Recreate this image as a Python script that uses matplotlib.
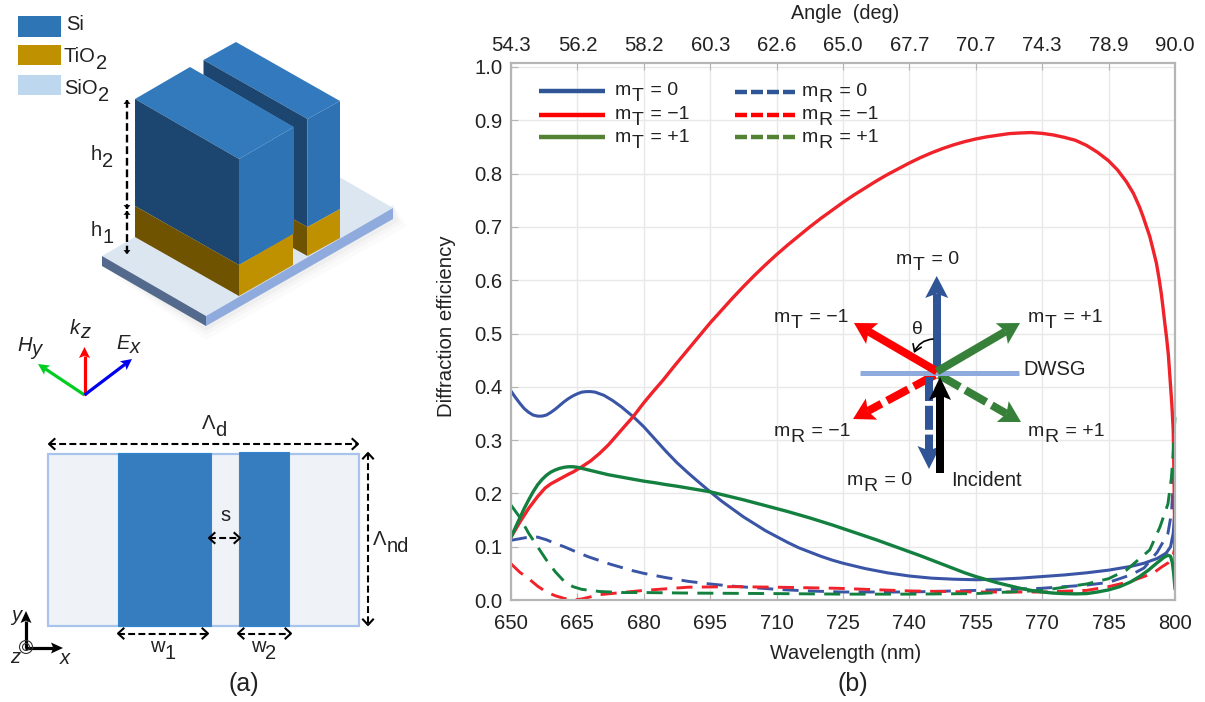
import numpy as np
import matplotlib
matplotlib.use('Agg')
from matplotlib import pyplot as plt
from matplotlib.patches import Polygon, Rectangle, Circle, FancyArrowPatch

plt.rcParams['font.family'] = ['Liberation Sans', 'DejaVu Sans']

# wavelength grids and curves
wl_tz = [650, 651, 652, 653, 654, 655, 656, 657, 658, 659, 660, 661, 662, 663, 664, 665, 666, 667, 668, 669, 670, 671,
         672, 673, 674, 675, 676, 677.6, 679, 680, 682.5, 685, 687.5, 690, 692.5, 695, 697.5, 700, 702.5, 705, 707.5,
         710, 712.5, 715, 717.5, 720, 722.5, 725, 727.5, 730, 732.5, 735, 737.5, 740, 745, 750, 755, 760, 765, 770,
         775, 780, 785, 790, 793, 796, 798, 799, 799.6, 800]
t_zero = [.392, .380, .369, .359, .352, .347, .345, .345, .347, .352, .358, .365, .372, .378, .383, .387, .390, .391,
          .391, .390, .387, .384, .379, .374, .368, .362, .355, .344, .333, .325, .302, .279, .2575, .2385, .2205, .203,
          .186, .171, .156, .143, .130, .119, .108, .098, .090, .082, .075, .069, .064, .059, .055, .051, .048, .045,
          .041, .039, .038, .039, .041, .044, .047, .051, .056, .063, .069, .078, .088, .100, .125, .170]

wl_tm = [650, 652, 654, 656, 657.7, 659, 661, 663, 664, 666, 668, 670, 672, 674, 676, 677.6, 680, 682, 684.4, 687, 690,
         692.5, 695, 697.5, 700, 702.5, 705, 707.5, 710, 712.5, 715, 717.5, 720, 722.5, 725, 727.5, 730, 732.5, 735,
         737.5, 740, 742.5, 745, 747.5, 750, 752.5, 755, 757.5, 760, 762.5, 765, 767.5, 770, 772.5, 775, 777.5, 780,
         782.5, 785, 787, 789, 790.6, 792, 792.8, 794.3, 795, 795.8, 796.4, 796.9, 797.3, 797.7, 798.1, 798.5, 798.9,
         799.3, 799.6, 799.8, 800]
t_minus = [.118, .146, .172, .194, .210, .218, .227, .236, .240, .250, .261, .275, .291, .310, .329, .344, .370, .390,
           .413, .440, .470, .495, .520, .543, .566, .588, .609, .629, .648, .666, .683, .700, .716, .731, .746, .760,
           .773, .786, .798, .809, .820, .830, .839, .847, .854, .860, .865, .869, .872, .875, .8762, .877, .8755, .8725,
           .868, .8625, .853, .840, .824, .807, .785, .763, .737, .719, .682, .659, .632, .603, .575, .548, .519, .492,
           .460, .413, .365, .319, .220, .070]

wl_tp = [650, 651, 652, 653, 654, 655, 656, 657, 658, 659, 660, 661, 662, 663, 664, 665, 666, 667, 668, 670, 672, 674,
         676, 678, 680, 682.5, 685, 687.5, 690, 692.5, 695, 697.5, 700, 702.5, 705, 707.5, 710, 712.5, 715, 717.5, 720,
         722.5, 725, 727.5, 730, 732.5, 735, 737.5, 740, 742.5, 745, 747.5, 750, 752.5, 755, 757.5, 760, 762.5, 765,
         767.5, 770, 772.5, 775, 777.5, 780, 782.5, 785, 787.5, 790, 792, 794, 796, 797.5, 798.4, 799, 799.4, 799.7, 800]
t_plus = [.118, .136, .154, .172, .188, .203, .216, .226, .234, .240, .244, .247, .249, .250, .250, .249, .247, .245,
          .243, .239, .235, .232, .229, .226, .223, .220, .2165, .2135, .210, .2065, .203, .198, .193, .188, .1825, .177,
          .1715, .166, .160, .154, .1475, .141, .134, .127, .120, .113, .1055, .098, .0905, .083, .075, .067, .059, .051,
          .044, .038, .032, .027, .022, .018, .015, .013, .012, .0115, .012, .015, .019, .025, .034, .044, .056, .070,
          .080, .084, .082, .070, .050, .022]

wl_rz = [650, 652, 654, 656, 658, 660, 662, 664.8, 667.5, 670, 672.5, 675, 677.5, 680, 685, 690, 695, 700, 705, 710, 717,
         725, 740, 755, 770, 780, 785, 790, 793, 796, 798.4, 799.2, 799.6, 799.9, 800]
r_zero = [.112, .115, .118, .118, .113, .106, .100, .090, .081, .074, .067, .061, .055, .050, .042, .035, .030, .026,
          .023, .020, .017, .015, .015, .018, .022, .028, .033, .047, .060, .090, .125, .163, .220, .270, .330]

wl_rm = [650, 652, 654, 656, 658, 660, 662, 664, 666, 668, 670, 675, 680, 690, 700, 710, 723.6, 740, 755, 770, 780,
         785, 790, 795, 797, 798.5, 799.5, 800]
r_minus = [.068, .052, .040, .026, .015, .008, .003, .000, .002, .006, .010, .014, .018, .024, .025, .024, .022, .017,
           .015, .015, .018, .025, .035, .050, .062, .070, .080, .100]

wl_rp = [650, 652, 654, 656, 658, 660, 662, 664, 666, 670, 675, 680, 690, 710, 725, 740, 755, 770, 780, 785, 789,
         794.3, 796.6, 798.4, 799.2, 799.6, 799.85, 800]
r_plus = [.178, .155, .125, .100, .075, .053, .035, .025, .020, .016, .014, .014, .013, .012, .011, .011, .012, .018,
          .030, .040, .056, .094, .137, .180, .230, .280, .320, .344]

x_ticks = [650, 665, 680, 695, 710, 725, 740, 755, 770, 785, 800]
y_ticks = [0.0, 0.1, 0.2, 0.3, 0.4, 0.5, 0.6, 0.7, 0.8, 0.9, 1.0]
angle_labels = ['54.3', '56.2', '58.2', '60.3', '62.6', '65.0', '67.7', '70.7', '74.3', '78.9', '90.0']

BLUE = '#3a55a5'
RED = '#f0222a'
GREEN = '#13803f'
GRAY = '#b5b5b5'
INK = '#222222'

fig = plt.figure(figsize=(12.05, 7.02), dpi=100)

# chart (b)
ax = fig.add_axes([511 / 1205, 102 / 702, 664 / 1205, 537 / 702])
ax.plot(wl_rz, r_zero, color=BLUE, lw=2.1, dashes=(5.5, 3.2), zorder=2.2)
ax.plot(wl_rm, r_minus, color=RED, lw=2.1, dashes=(5.5, 3.2), zorder=2.2)
ax.plot(wl_tz, t_zero, color=BLUE, lw=2.2, zorder=2.3)
ax.plot(wl_tm, t_minus, color=RED, lw=2.4, zorder=2.4)
ax.plot(wl_tp, t_plus, color=GREEN, lw=2.4, zorder=2.5)
ax.plot(wl_rp, r_plus, color=GREEN, lw=2.1, dashes=(5.5, 3.2), zorder=2.6, clip_on=False)
ax.set_xlim(650, 800)
ax.set_ylim(0, 537 / 533)
ax.set_xticks(x_ticks)
ax.set_yticks(y_ticks)
ax.set_yticklabels(['%.1f' % v for v in y_ticks])
ax.grid(color='#e8e8e8', lw=1)
ax.set_axisbelow(True)
ax.tick_params(direction='in', length=5, color=GRAY, labelsize=14.6, labelcolor=INK)
ax.tick_params(axis='x', pad=10)
ax.tick_params(axis='y', pad=6)
ax.set_xlabel('Wavelength (nm)', fontsize=14.3, labelpad=8, color=INK, x=0.504)
ax.set_ylabel('Diffraction efficiency', fontsize=14.7, labelpad=13, color=INK, y=0.51)
for sp in ax.spines.values():
    sp.set_color(GRAY)
    sp.set_linewidth(1.5)

top = ax.twiny()
top.set_xlim(650, 800)
top.set_xticks(x_ticks)
top.set_xticklabels(angle_labels)
top.tick_params(direction='in', length=5, color=GRAY, labelsize=14.6, pad=6, labelcolor=INK)
top.set_xlabel('Angle  (deg)', fontsize=14.2, labelpad=12, color=INK, x=0.503)
for sp in top.spines.values():
    sp.set_color(GRAY)
    sp.set_linewidth(1.5)

# overlay in picture pixels for the schematic parts
ov = fig.add_axes([0, 0, 1, 1], zorder=5)
ov.set_xlim(0, 1205)
ov.set_ylim(702, 0)
ov.axis('off')
ov.patch.set_alpha(0)


def poly(pts, color, z=2, alpha=1):
    ov.add_patch(Polygon(pts, closed=True, fc=color, ec='none', zorder=z, alpha=alpha))


def sub_text(x, y, base, sub, rest='', size=14, style='normal', drop=6):
    # subscripts in the figure are as large as the text, mathtext makes them too small
    r = fig.canvas.get_renderer()
    for s, dy in ((base, 0), (sub, drop), (rest, 0)):
        if not s:
            continue
        t = ov.text(x, y + dy, s, fontsize=size, style=style, va='baseline', ha='left', color=INK, zorder=10)
        x += t.get_window_extent(r).width
        if s == sub:
            x += 2


def arrow(tail, tip, color, w, head_w, head_l, dashes=None, z=6):
    tail = np.array(tail, float)
    tip = np.array(tip, float)
    d = (tip - tail) / np.hypot(*(tip - tail))
    n = np.array([-d[1], d[0]])
    end = tip - d * head_l * 0.8
    ls = (0, dashes) if dashes else '-'
    ov.plot([tail[0], end[0]], [tail[1], end[1]], color=color, lw=w * 0.72, ls=ls, zorder=z, solid_capstyle='butt',
            dash_capstyle='butt')
    base = tip - d * head_l
    poly([tip, base + n * head_w / 2, tip - d * head_l * 0.8, base - n * head_w / 2], color, z=z)


def dim(a, b, head=5, filled=False, lw=1.5):
    # double headed dashed dimension line
    a = np.array(a, float)
    b = np.array(b, float)
    d = (b - a) / np.hypot(*(b - a))
    n = np.array([-d[1], d[0]])
    ov.plot([a[0], b[0]], [a[1], b[1]], color='black', lw=lw, ls=(0, (3.3, 1.6)), zorder=8, dash_capstyle='butt')
    for tip, s in ((a, 1), (b, -1)):
        p = [tip + s * d * head * 1.1 + n * head, tip, tip + s * d * head * 1.1 - n * head]
        if filled:
            poly(p, 'black', z=8)
        else:
            ov.plot([q[0] for q in p], [q[1] for q in p], color='black', lw=lw, zorder=8)


# legend of chart
leg_x_t = (539, 605)
leg_x_r = (735, 798)
leg_y = (91, 115, 137)
leg_col = ('#2f5597', '#ff0000', '#548235')
for y, c in zip(leg_y, leg_col):
    ov.plot(leg_x_t, [y, y], color=c, lw=3.2, solid_capstyle='butt')
    y2 = y + 1 if y == 91 else y
    ov.plot(leg_x_r, [y2, y2], color=c, lw=3.2, ls=(0, (2.7, 0.9)), dash_capstyle='butt')
for y, rest in zip((95, 119, 142), (' = 0', ' = \u22121', ' = +1')):
    sub_text(615, y, 'm', 'T', rest)
    sub_text(802, y + 1 if y == 95 else y, 'm', 'R', rest)

# material legend
for y0, y1, c in ((16, 37, '#2e75b6'), (45, 65, '#bf9000'), (75, 95, '#bdd7ee')):
    ov.add_patch(Rectangle((18, y0), 43, y1 - y0, fc=c, ec='none'))
ov.text(66, 30.5, 'Si', fontsize=14.5, va='baseline', color=INK)
sub_text(64, 62, 'TiO', '2', size=14.5, drop=7)
sub_text(64, 94, 'SiO', '2', size=14.5, drop=7)

# substrate with soft shadow
for k, a in ((14, 0.03), (9, 0.04), (5, 0.05)):
    poly([(100 + k, 262 + k), (206, 326 + k), (393 + k, 219 + k * 0.5), (393, 205), (206, 316)], '#808080', z=1, alpha=a)
poly([(102, 256), (206, 316), (393, 208), (289, 148)], '#dce6f1')
poly([(102, 256), (206, 316), (206, 326), (102, 266)], '#546a8c')
poly([(206, 316), (393, 208), (393, 219), (206, 326)], '#8faadc')

# back ridge
poly([(203.5, 60), (236, 42), (340, 101), (307.5, 119)], '#3379bd', z=3)
poly([(203.5, 60), (307.5, 119), (307.5, 227), (293, 219), (293, 127), (203.5, 75)], '#1c4670', z=3)
poly([(307.5, 119), (340, 101), (340, 209), (307.5, 227)], '#2e72b3', z=3)
poly([(293, 219), (307.5, 227), (307.5, 256), (293, 248)], '#705300', z=3)
poly([(307.5, 227), (340, 209), (340, 238), (307.5, 256)], '#bf9000', z=3)

# front ridge
poly([(135, 99), (190, 67), (294, 127), (239, 159)], '#337abd', z=4)
poly([(135, 99), (239, 159), (239, 265), (135, 206)], '#1c4670', z=4)
poly([(239, 159), (294, 127), (294, 234), (239, 265)], '#2e74b5', z=4)
poly([(135, 206), (239, 265), (239, 296), (135, 237)], '#705300', z=4)
poly([(239, 265), (293, 234), (293, 265), (239, 296)], '#bf9000', z=4)

dim((127, 100), (127, 209), head=3.5, filled=True, lw=1.7)
dim((127, 211), (127, 254), head=3.5, filled=True, lw=1.7)
sub_text(91, 160, 'h', '2', size=14.5, drop=7)
sub_text(91, 236, 'h', '1', size=14.5, drop=7)

# field triad
org = (84.5, 395)
arrow(org, (84.5, 347), '#ff0000', 3.2, 11, 11)
arrow(org, (38, 364), '#00cc22', 3.2, 11, 11)
arrow(org, (132, 359), '#0000ee', 3.2, 11, 11)
sub_text(17, 351, 'H', 'y', size=14.5, style='italic', drop=4)
sub_text(70, 334, 'k', 'z', size=14.5, style='italic', drop=4)
sub_text(116, 349, 'E', 'x', size=14.5, style='italic', drop=4)

# plan view
ov.add_patch(Rectangle((48, 453.7), 311, 172, fc='#eff3f7', ec='#a9c4ec', lw=1.6, zorder=2))
ov.add_patch(Rectangle((117.7, 453), 93.3, 173, fc='#367dc0', ec='#2f86d0', lw=0.8, zorder=3))
ov.add_patch(Rectangle((238.7, 452), 50.3, 174, fc='#367dc0', ec='#2f86d0', lw=0.8, zorder=3))
dim((49, 444), (358, 444))
dim((368, 453), (368, 625))
dim((209, 538), (240, 538))
dim((118, 633.5), (208, 633.5))
dim((238, 633.5), (291, 633.5))
sub_text(202, 429, '\u039b', 'd', size=14.5, drop=7)
sub_text(373, 545, '\u039b', 'nd', size=14.5, drop=7)
ov.text(225, 521, 's', fontsize=14.5, ha='center', va='baseline', color=INK)
sub_text(150, 652, 'w', '1', size=14.5, drop=7)
sub_text(251, 652, 'w', '2', size=14.5, drop=7)
ov.text(244, 691, '(a)', fontsize=18, ha='center', va='baseline', color=INK)
ov.text(853, 691, '(b)', fontsize=18, ha='center', va='baseline', color=INK)

# xyz corner
arrow((26, 648), (26, 611), 'black', 3.2, 11, 12)
arrow((25, 648), (63, 648), 'black', 3.2, 11, 12)
ov.add_patch(Circle((26, 647), 6.5, fc='none', ec='#333333', lw=0.8, zorder=7))
ov.add_patch(Circle((26, 647), 3.5, fc='none', ec='#333333', lw=0.8, zorder=7))
ov.text(11, 621, 'y', fontsize=14.5, style='italic', va='baseline', color=INK)
ov.text(10, 663, 'z', fontsize=14.5, style='italic', va='baseline', color=INK)
ov.text(60, 664, 'x', fontsize=14.5, style='italic', va='baseline', color=INK)

# inset ray diagram
ctr = (937, 371.5)
arrow((935, 375), (853, 419), '#ff0000', 8, 24, 21, dashes=(3, 0.8))
arrow((929, 377), (929, 469), '#2f5597', 8, 23, 23, dashes=(3, 0.6))
arrow((939, 375), (1021, 422), '#37803a', 8, 24, 21, dashes=(3, 0.8))
ov.plot((860, 1019), (373.3, 373.3), color='#8faadc', lw=3.6, solid_capstyle='butt', zorder=7)
arrow((936.7, 372), (936.7, 276), '#2f5597', 8, 23, 22, z=8)
arrow(ctr, (854, 323), '#ff0000', 8, 24, 21, z=8)
arrow(ctr, (1020, 323), '#37803a', 8, 24, 21, z=8)
arrow((940, 473), (940, 377), 'black', 8, 22, 23, z=9)
ov.add_patch(FancyArrowPatch((933, 339), (914, 353), connectionstyle='arc3,rad=0.3', arrowstyle='->,head_length=3,head_width=2',
                             lw=1.2, color='black', mutation_scale=1.6, shrinkA=0, shrinkB=0, zorder=9))
ov.text(917, 334, '\u03b8', fontsize=14, ha='center', va='baseline', color=INK, zorder=10)
sub_text(896, 264, 'm', 'T', ' = 0')
sub_text(774, 322, 'm', 'T', ' = \u22121')
sub_text(1028, 322, 'm', 'T', ' = +1')
sub_text(774, 436, 'm', 'R', ' = \u22121')
sub_text(1028, 436, 'm', 'R', ' = +1')
sub_text(847, 485, 'm', 'R', ' = 0')
ov.text(1023, 375, 'DWSG', fontsize=14.5, va='baseline', color=INK, zorder=10)
ov.text(951, 486, 'Incident', fontsize=14.5, va='baseline', color=INK, zorder=10)

fig.savefig('out.png', dpi=100)
